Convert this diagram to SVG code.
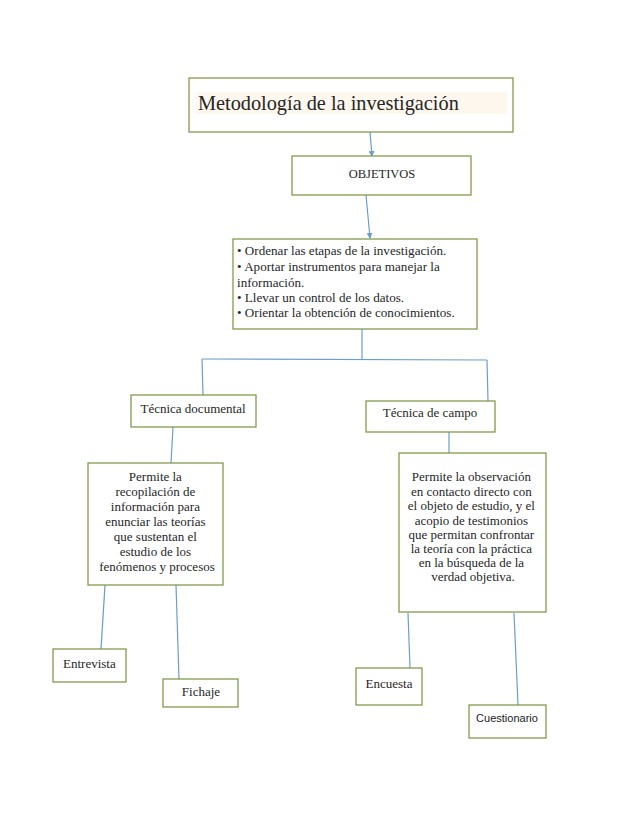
<svg xmlns="http://www.w3.org/2000/svg" width="638" height="826" viewBox="0 0 638 826">
<style>
.box{fill:#fff;stroke:#77933c;stroke-width:1.2}
.t{font-family:"Liberation Serif","DejaVu Serif",serif;font-size:13px;fill:#262626}
.c{text-anchor:middle}
.ln{stroke:#6d9ecb;stroke-width:1.2;fill:none}
</style>
<defs>
<marker id="ah" markerWidth="6" markerHeight="6" refX="5" refY="3" orient="auto" markerUnits="userSpaceOnUse">
<path d="M0,0 L6,3 L0,6 z" fill="#6d9ecb"/>
</marker>
</defs>
<rect width="638" height="826" fill="#fff"/>
<g id="connectors">
<line class="ln" x1="370" y1="132" x2="372" y2="156" marker-end="url(#ah)"/>
<line class="ln" x1="366" y1="195" x2="370" y2="238" marker-end="url(#ah)"/>
<line class="ln" x1="362" y1="329" x2="362" y2="359"/>
<line class="ln" x1="202" y1="359" x2="487" y2="360"/>
<line class="ln" x1="202" y1="359" x2="203" y2="395"/>
<line class="ln" x1="487" y1="360" x2="488" y2="401"/>
<line class="ln" x1="173" y1="427" x2="171" y2="463"/>
<line class="ln" x1="449" y1="432" x2="449" y2="453"/>
<line class="ln" x1="105" y1="585" x2="101" y2="649"/>
<line class="ln" x1="176" y1="585" x2="179" y2="679"/>
<line class="ln" x1="408" y1="613" x2="410" y2="668"/>
<line class="ln" x1="514" y1="613" x2="518" y2="705"/>
</g>
<g id="titulo">
<rect class="box" x="189" y="78" width="324" height="54"/>
<rect x="196" y="92" width="311" height="22" fill="#fdf7ee"/>
<text class="t" x="198" y="110" style="font-size:20.3px">Metodología de la investigación</text>
</g>
<g id="objetivos">
<rect class="box" x="292" y="156" width="179" height="39"/>
<text class="t c" x="382" y="178" style="font-size:12.5px">OBJETIVOS</text>
</g>
<g id="lista">
<rect class="box" x="233" y="239" width="244" height="90"/>
<text class="t" x="237" style="font-size:13.1px">
<tspan x="237" y="255">• Ordenar las etapas de la investigación.</tspan>
<tspan x="237" y="271">• Aportar instrumentos para manejar la</tspan>
<tspan x="237" y="287">información.</tspan>
<tspan x="237" y="302">• Llevar un control de los datos.</tspan>
<tspan x="237" y="317">• Orientar la obtención de conocimientos.</tspan>
</text>
</g>
<g id="tecnica-documental">
<rect class="box" x="131" y="395" width="125" height="32"/>
<text class="t c" x="193" y="413">Técnica documental</text>
</g>
<g id="tecnica-campo">
<rect class="box" x="366" y="401" width="129" height="31"/>
<text class="t c" x="430" y="417">Técnica de campo</text>
</g>
<g id="doc-desc">
<rect class="box" x="88" y="463" width="135" height="122"/>
<text class="t c">
<tspan x="157" y="481">Permite la</tspan>
<tspan x="157" y="496">recopilación de</tspan>
<tspan x="157" y="511">información para</tspan>
<tspan x="157" y="526">enunciar las teorías</tspan>
<tspan x="157" y="541">que sustentan el</tspan>
<tspan x="157" y="556">estudio de los</tspan>
<tspan x="157" y="571">fenómenos y procesos</tspan>
</text>
</g>
<g id="campo-desc">
<rect class="box" x="399" y="453" width="147" height="159"/>
<text class="t c">
<tspan x="473" y="481">Permite la observación</tspan>
<tspan x="473" y="496">en contacto directo con</tspan>
<tspan x="473" y="510">el objeto de estudio, y el</tspan>
<tspan x="473" y="525">acopio de testimonios</tspan>
<tspan x="473" y="539">que permitan confrontar</tspan>
<tspan x="473" y="553">la teoría con la práctica</tspan>
<tspan x="473" y="567">en la búsqueda de la</tspan>
<tspan x="473" y="581">verdad objetiva.</tspan>
</text>
</g>
<g id="entrevista">
<rect class="box" x="53" y="649" width="73" height="33"/>
<text class="t" x="63" y="668">Entrevista</text>
</g>
<g id="fichaje">
<rect class="box" x="163" y="679" width="75" height="28"/>
<text class="t c" x="201" y="696">Fichaje</text>
</g>
<g id="encuesta">
<rect class="box" x="356" y="668" width="66" height="37"/>
<text class="t c" x="389" y="688">Encuesta</text>
</g>
<g id="cuestionario">
<rect class="box" x="469" y="705" width="77" height="33"/>
<text x="507" y="722" text-anchor="middle" style="font-family:'Liberation Sans','DejaVu Sans',sans-serif;font-size:11px;fill:#1a1a1a">Cuestionario</text>
</g>
</svg>
